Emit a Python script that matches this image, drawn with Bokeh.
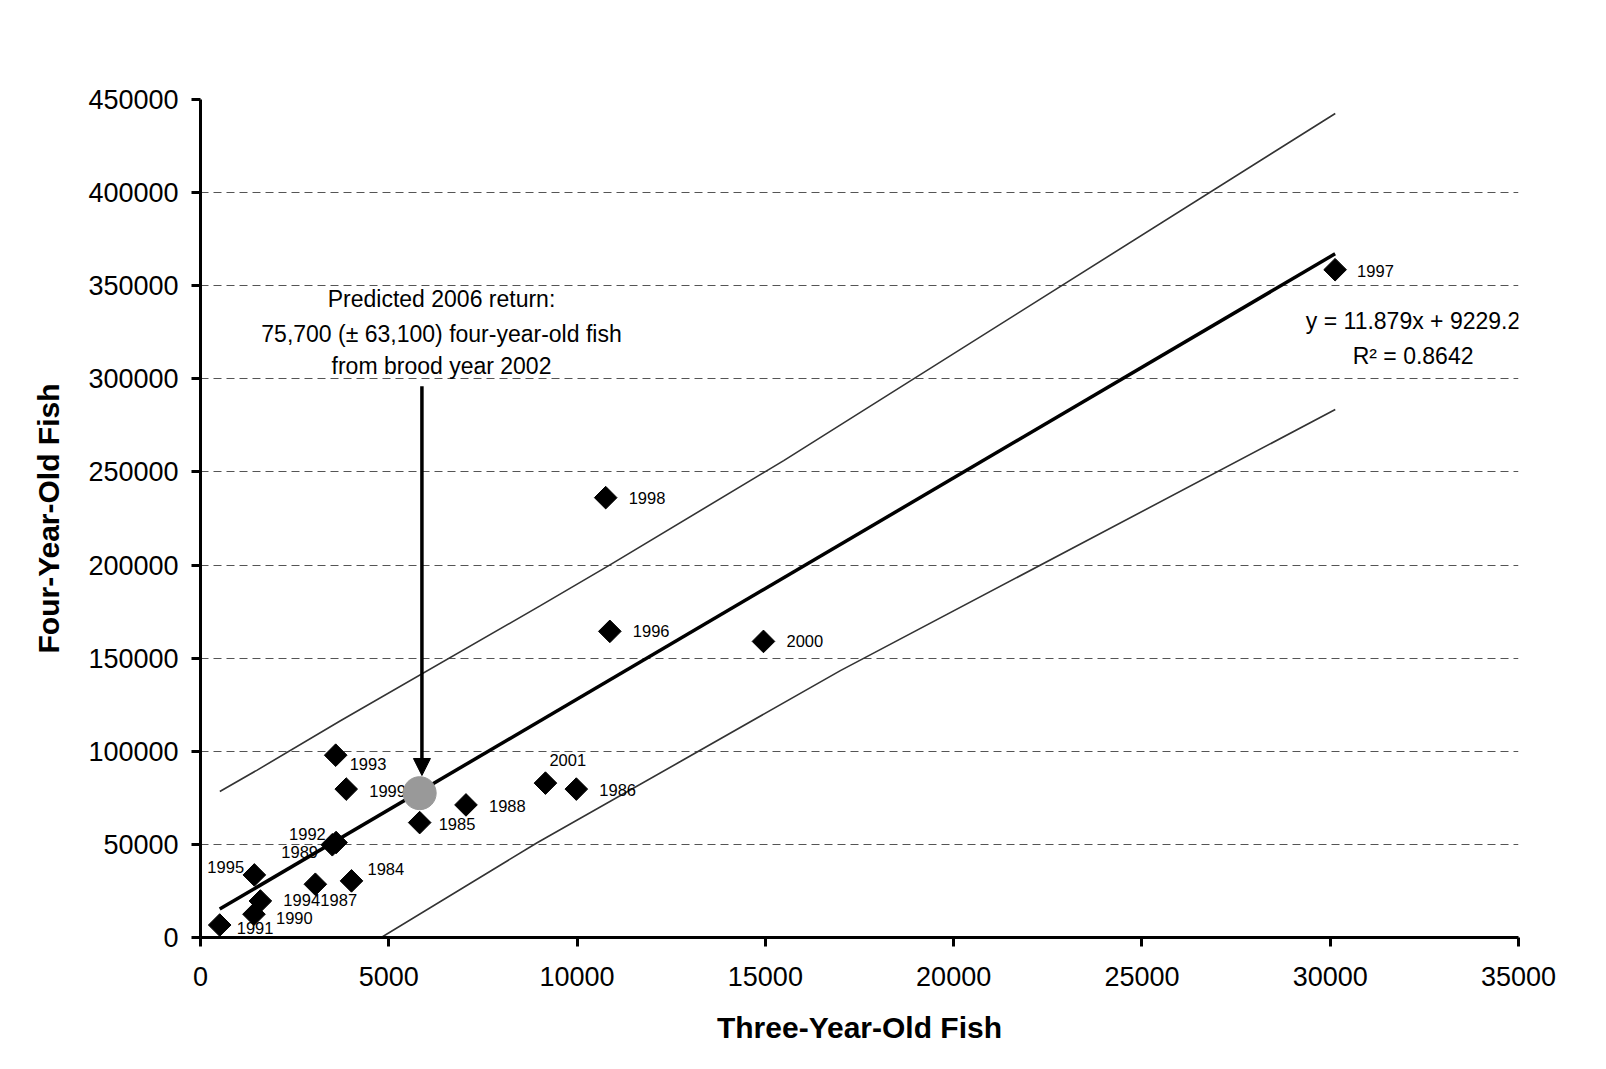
import numpy as np
from bokeh.plotting import figure
from bokeh.models import (ColumnDataSource, Range1d, FixedTicker, BasicTickFormatter,
                          Label, Arrow, NormalHead)
from bokeh.core.properties import value
from bokeh.embed import file_html
from bokeh.resources import INLINE

FONT = "Liberation Sans"

# ---- data ----
years = ["1984", "1985", "1986", "1987", "1988", "1989", "1990", "1991", "1992",
         "1993", "1994", "1995", "1996", "1997", "1998", "1999", "2000", "2001"]
three_year_old = [4010, 5820, 9980, 3050, 7050, 3500, 1420, 510, 3600,
                  3590, 1590, 1430, 10870, 30130, 10760, 3870, 14950, 9160]
four_year_old = [30400, 61700, 79700, 28600, 71200, 49800, 12500, 6700, 51000,
                 97900, 19600, 33600, 164400, 358600, 236200, 79700, 159000, 82900]

# label offsets (pixels, right / down) as placed in the reference
label_dx = [16, 19, 23, 5, 23, -51, 22, 17, -47, 14, 23, -47, 23, 22, 23, 23, 23, 4]
label_dy = [-12, 1, 1, 16, 1, 7, 4, 3, -9, 9, -1, -8, 0, 1, 0, 2, 0, -23]

# prediction for brood year 2002
pred_x = 5820
pred_y = 77500

# fitted trend
slope = 11.879
intercept = 9229.2
r_squared = 0.8642

# prediction-interval lines
upper_x = [513, 1505, 3717, 9027, 10841, 15487, 30134]
upper_y = [78400, 89900, 116400, 178200, 199700, 256100, 442500]
lower_x = [513, 4800, 8939, 12744, 16992, 30134]
lower_y = [-50000, 0, 50900, 94500, 143300, 283500]

x_ticks = [0, 5000, 10000, 15000, 20000, 25000, 30000, 35000]
y_ticks = [0, 50000, 100000, 150000, 200000, 250000, 300000, 350000, 400000, 450000]

annot_lines = ["Predicted 2006 return:",
               "75,700 (\u00b1 63,100) four-year-old fish",
               "from brood year 2002"]
annot_x = 6400
annot_y = [343000, 324300, 306800]
arrow_x = 5880
arrow_y_start = 296000
arrow_y_end = 87000

eq_x = 32200
eq_y = [330800, 312500]

# ---- figure ----
p = figure(width=1604, height=1068, output_backend="svg", toolbar_location=None,
           x_range=Range1d(0, 35000), y_range=Range1d(0, 450000),
           min_border_left=200, min_border_top=99, min_border_right=86,
           min_border_bottom=131, background_fill_color="white",
           border_fill_color="white")
p.outline_line_color = None
p.xgrid.grid_line_color = None
p.ygrid.grid_line_color = "#555555"
p.ygrid.grid_line_dash = "8 5"
p.ygrid.grid_line_width = 1

for ax in (p.xaxis[0], p.yaxis[0]):
    ax.axis_line_width = 3
    ax.axis_line_color = "black"
    ax.major_tick_line_width = 3
    ax.major_tick_line_color = "black"
    ax.major_tick_out = 9
    ax.major_tick_in = 0
    ax.minor_tick_line_color = None
    ax.major_label_text_font = FONT
    ax.major_label_text_font_size = "27px"
    ax.major_label_text_color = "black"
    ax.axis_label_text_font = FONT
    ax.axis_label_text_font_size = "30px"
    ax.axis_label_text_font_style = "bold"
    ax.axis_label_text_color = "black"
    ax.formatter = BasicTickFormatter(use_scientific=False)

p.xaxis.ticker = FixedTicker(ticks=x_ticks)
p.yaxis.ticker = FixedTicker(ticks=y_ticks)
p.xaxis.axis_label = "Three-Year-Old Fish"
p.yaxis.axis_label = "Four-Year-Old Fish"
p.xaxis.major_label_standoff = 20
p.yaxis.major_label_standoff = 13
p.xaxis.axis_label_standoff = 22
p.yaxis.axis_label_standoff = 20

# prediction interval lines
p.line(upper_x, upper_y, line_color="#333333", line_width=1.6)
p.line(lower_x, lower_y, line_color="#333333", line_width=1.6)

# regression line
reg_x = [min(three_year_old), max(three_year_old)]
reg_y = [slope * v + intercept for v in reg_x]
p.line(reg_x, reg_y, line_color="black", line_width=3.5)

# points
src = ColumnDataSource(dict(x=three_year_old, y=four_year_old, year=years,
                            dx=label_dx, dy=label_dy))
p.scatter("x", "y", source=src, marker="square", angle=np.pi / 4, size=16,
          fill_color="black", line_color="black")
p.text("x", "y", text="year", source=src, x_offset="dx", y_offset="dy",
       text_font=value(FONT), text_font_size="16.5px", text_color="black",
       text_align="left", text_baseline="alphabetic")

# predicted point
p.scatter([pred_x], [pred_y], marker="circle", size=33,
          fill_color="#999999", line_color="#999999")

# arrow
p.add_layout(Arrow(x_start=arrow_x, y_start=arrow_y_start, x_end=arrow_x, y_end=arrow_y_end,
                   line_width=3.5, line_color="black",
                   end=NormalHead(size=17, fill_color="black", line_color="black")))

for t, yy in zip(annot_lines, annot_y):
    p.add_layout(Label(x=annot_x, y=yy, text=t, text_align="center",
                       text_baseline="alphabetic", text_font=FONT,
                       text_font_size="23px", text_color="black"))

eq_texts = ["y = %.3fx + %.1f" % (slope, intercept), "R\u00b2 = %.4f" % r_squared]
for t, yy in zip(eq_texts, eq_y):
    p.add_layout(Label(x=eq_x, y=yy, text=t, text_align="center",
                       text_baseline="alphabetic", text_font=FONT,
                       text_font_size="23px", text_color="black"))

open("out.html", "w").write(file_html(p, INLINE))
